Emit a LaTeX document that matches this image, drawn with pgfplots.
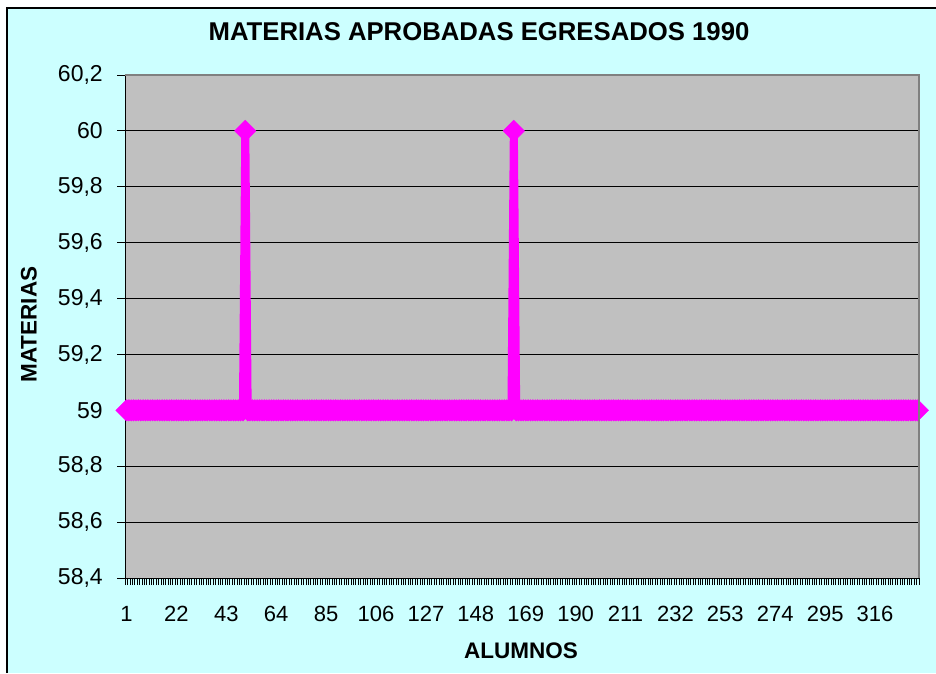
\documentclass[border=0pt]{standalone}
\usepackage{fontspec}
\setmainfont{Liberation Sans}
\usepackage{pgfplots}
\pgfplotsset{compat=1.18}
\definecolor{fondo}{HTML}{CCFFFF}
\definecolor{area}{HTML}{C0C0C0}
\definecolor{borde}{HTML}{808080}
\definecolor{linea}{HTML}{FF00FF}
\begin{document}
\begin{tikzpicture}
\useasboundingbox (-125.3pt,-95pt) rectangle (810.7pt,578pt);
\fill[white] (-125.3pt,-95pt) rectangle (810.7pt,578pt);
\fill[fondo] (-118.3pt,-95pt) rectangle (810.7pt,570pt);
\draw[line width=1.3pt] (-118.3pt,-95pt) -- (-118.3pt,570pt) -- (810.7pt,570pt);
\begin{axis}[
  scale only axis, width=793.7pt, height=503pt,
  xmin=0.5, xmax=334.5, ymin=58.4, ymax=60.2,
  axis lines*=left,
  axis line style={line width=1pt, black},
  axis background/.style={fill=area},
  clip=false,
  ytick={58.4,58.6,58.8,59,59.2,59.4,59.6,59.8,60,60.2},
  xtick={1,22,43,64,85,106,127,148,169,190,211,232,253,274,295,316},
  minor xtick={0.5,1.5,...,334.5},
  ymajorgrids,
  major grid style={black, line width=0.9pt},
  tick align=outside,
  major tick length=8pt, minor tick length=7pt,
  major x tick style={draw=none},
  minor x tick style={black, line width=0.8pt},
  major y tick style={black, line width=0.9pt},
  /pgf/number format/assume math mode=true,
  yticklabel style={font=\fontsize{23}{27}\selectfont, xshift=-11pt,
    /pgf/number format/.cd, use comma, fixed, precision=1},
  xticklabel style={font=\fontsize{22}{26}\selectfont, yshift=-17pt},
]
% 334 alumnos, uno por fila
\addplot[linea, line width=8pt, mark=square*,
  mark options={rotate=45, fill=linea, draw=linea, line width=0.4pt},
  mark size=7.6pt]
  table[header=false, row sep=\\, x expr=\coordindex+1, y index=0] {
59\\59\\59\\59\\59\\59\\59\\59\\59\\59\\
59\\59\\59\\59\\59\\59\\59\\59\\59\\59\\
59\\59\\59\\59\\59\\59\\59\\59\\59\\59\\
59\\59\\59\\59\\59\\59\\59\\59\\59\\59\\
59\\59\\59\\59\\59\\59\\59\\59\\59\\59\\
60\\59\\59\\59\\59\\59\\59\\59\\59\\59\\
59\\59\\59\\59\\59\\59\\59\\59\\59\\59\\
59\\59\\59\\59\\59\\59\\59\\59\\59\\59\\
59\\59\\59\\59\\59\\59\\59\\59\\59\\59\\
59\\59\\59\\59\\59\\59\\59\\59\\59\\59\\
59\\59\\59\\59\\59\\59\\59\\59\\59\\59\\
59\\59\\59\\59\\59\\59\\59\\59\\59\\59\\
59\\59\\59\\59\\59\\59\\59\\59\\59\\59\\
59\\59\\59\\59\\59\\59\\59\\59\\59\\59\\
59\\59\\59\\59\\59\\59\\59\\59\\59\\59\\
59\\59\\59\\59\\59\\59\\59\\59\\59\\59\\
59\\59\\59\\60\\59\\59\\59\\59\\59\\59\\
59\\59\\59\\59\\59\\59\\59\\59\\59\\59\\
59\\59\\59\\59\\59\\59\\59\\59\\59\\59\\
59\\59\\59\\59\\59\\59\\59\\59\\59\\59\\
59\\59\\59\\59\\59\\59\\59\\59\\59\\59\\
59\\59\\59\\59\\59\\59\\59\\59\\59\\59\\
59\\59\\59\\59\\59\\59\\59\\59\\59\\59\\
59\\59\\59\\59\\59\\59\\59\\59\\59\\59\\
59\\59\\59\\59\\59\\59\\59\\59\\59\\59\\
59\\59\\59\\59\\59\\59\\59\\59\\59\\59\\
59\\59\\59\\59\\59\\59\\59\\59\\59\\59\\
59\\59\\59\\59\\59\\59\\59\\59\\59\\59\\
59\\59\\59\\59\\59\\59\\59\\59\\59\\59\\
59\\59\\59\\59\\59\\59\\59\\59\\59\\59\\
59\\59\\59\\59\\59\\59\\59\\59\\59\\59\\
59\\59\\59\\59\\59\\59\\59\\59\\59\\59\\
59\\59\\59\\59\\59\\59\\59\\59\\59\\59\\
59\\59\\59\\59\\
};
\end{axis}
\draw[borde, line width=2pt] (0pt,503pt) -- (793.7pt,503pt) -- (793.7pt,0pt);
\node[anchor=base, font=\bfseries\fontsize{25.7}{30}\selectfont] at (353.7pt,537.3pt) {MATERIAS APROBADAS EGRESADOS 1990};
\node[anchor=base, font=\bfseries\fontsize{22.5}{27}\selectfont] at (395.7pt,-80.3pt) {ALUMNOS};
\node[rotate=90, anchor=base, font=\bfseries\fontsize{22.5}{27}\selectfont] at (-88.6pt,253.5pt) {MATERIAS};
\end{tikzpicture}
\end{document}
